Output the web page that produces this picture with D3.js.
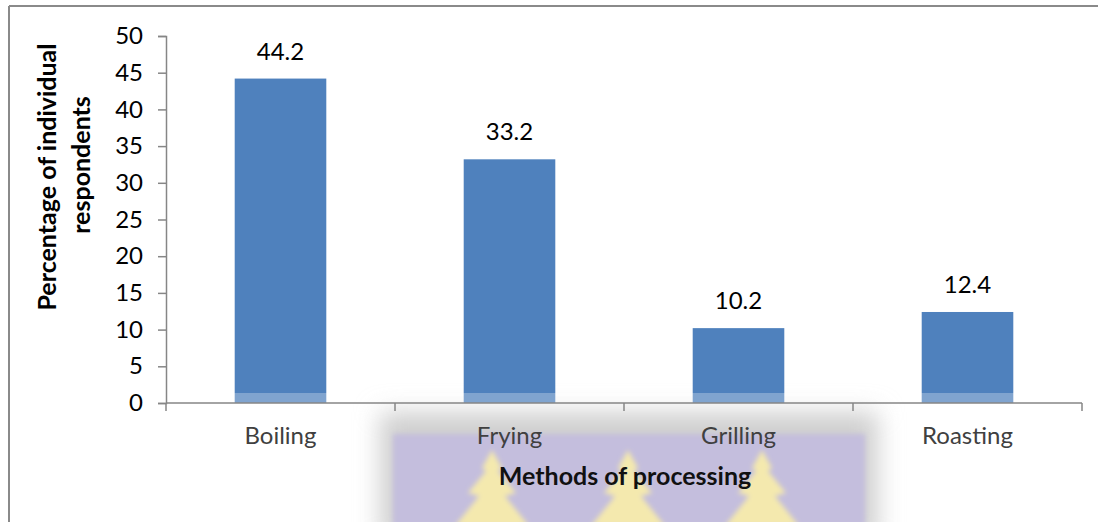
<!DOCTYPE html>
<html>
<head>
<meta charset="utf-8">
<script src="https://cdn.jsdelivr.net/npm/d3@7"></script>
<style>
  body { margin: 0; background: #fff; }
  svg { display: block; font-family: Lato, "Open Sans", sans-serif; }
</style>
</head>
<body>
<script>
var categories = ["Boiling", "Frying", "Grilling", "Roasting"];
var values = [44.2, 33.2, 10.2, 12.4];
var yTicks = [0, 5, 10, 15, 20, 25, 30, 35, 40, 45, 50];

var width = 1098,
    height = 522;

var svg = d3.select("body").append("svg")
    .attr("width", width)
    .attr("height", height);

// outer frame (only top + left show in the picture)
svg.append("line").attr("x1", 9).attr("x2", width).attr("y1", 6).attr("y2", 6)
    .attr("stroke", "#8a8a8a").attr("stroke-width", 2);
svg.append("line").attr("x1", 9).attr("x2", 9).attr("y1", 6).attr("y2", height)
    .attr("stroke", "#8a8a8a").attr("stroke-width", 2);

// watermark behind the lower labels
var defs = svg.append("defs");
defs.append("filter").attr("id", "blur").attr("x", "-20%").attr("y", "-40%")
    .attr("width", "140%").attr("height", "180%")
  .append("feGaussianBlur").attr("stdDeviation", 12);
defs.append("filter").attr("id", "soft")
  .append("feGaussianBlur").attr("stdDeviation", 2.5);

var wm = svg.append("g");
wm.append("rect").attr("x", 380).attr("y", 412).attr("width", 498).attr("height", 130)
    .attr("fill", "#cfcfcf").attr("filter", "url(#blur)");
wm.append("rect").attr("x", 393).attr("y", 434).attr("width", 472).attr("height", 100)
    .attr("fill", "#c4bedd").attr("filter", "url(#soft)");
[492, 628, 762].forEach(function(cx) {
  var p = "M" + cx + ",450 L" + (cx + 10) + ",468 L" + (cx + 6) + ",471 L" + (cx + 24) + ",493 " +
          "L" + (cx + 13) + ",496 L" + (cx + 37) + ",526 L" + (cx - 37) + ",526 L" + (cx - 13) + ",496 " +
          "L" + (cx - 24) + ",493 L" + (cx - 6) + ",471 L" + (cx - 10) + ",468 Z";
  wm.append("path").attr("d", p).attr("fill", "#f4e9ae").attr("filter", "url(#soft)");
});

var x = d3.scaleBand()
    .domain(categories)
    .range([166, 1082]);

var y = d3.scaleLinear()
    .domain([0, 50])
    .range([403, 36]);

var barW = x.bandwidth() * 0.4;

svg.selectAll(".bar")
    .data(values)
  .enter().append("rect")
    .attr("class", "bar")
    .attr("x", function(d, i) { return x(categories[i]) + (x.bandwidth() - barW) / 2; })
    .attr("y", function(d) { return y(d); })
    .attr("width", barW)
    .attr("height", function(d) { return y(0) - y(d); })
    .attr("fill", "#4f81bd");

// pale strip along the bottom of the bars
svg.append("rect").attr("x", 167).attr("y", y(0) - 10).attr("width", 914).attr("height", 10)
    .attr("fill", "#fff").attr("opacity", 0.28);

// value labels
svg.selectAll(".val")
    .data(values)
  .enter().append("text")
    .attr("class", "val")
    .attr("x", function(d, i) { return x(categories[i]) + x.bandwidth() / 2; })
    .attr("y", function(d) { return y(d) - 19; })
    .attr("text-anchor", "middle")
    .attr("font-size", 24)
    .attr("fill", "#000")
    .text(function(d) { return d.toFixed(1); });

// y axis
var yAxis = svg.append("g")
    .attr("transform", "translate(166,0)")
    .call(d3.axisLeft(y).tickValues(yTicks).tickSize(8).tickPadding(15));
yAxis.select(".domain").attr("stroke", "#868686").attr("stroke-width", 1.5);
yAxis.selectAll(".tick line").attr("stroke", "#868686").attr("stroke-width", 1.5);
yAxis.selectAll(".tick text").attr("font-size", 24).attr("fill", "#000")
    .attr("font-family", "Lato, 'Open Sans', sans-serif");

// x axis: boundaries between categories
var bounds = categories.map(function(c) { return x(c); }).concat([x.range()[1]]);
var xAxis = svg.append("g");
xAxis.append("line").attr("x1", 166).attr("x2", 1082).attr("y1", y(0)).attr("y2", y(0))
    .attr("stroke", "#868686").attr("stroke-width", 1.5);
xAxis.selectAll(".xt")
    .data(bounds)
  .enter().append("line")
    .attr("x1", function(d) { return d; }).attr("x2", function(d) { return d; })
    .attr("y1", y(0)).attr("y2", y(0) + 8)
    .attr("stroke", "#868686").attr("stroke-width", 1.5);
xAxis.selectAll(".xl")
    .data(categories)
  .enter().append("text")
    .attr("x", function(d) { return x(d) + x.bandwidth() / 2; })
    .attr("y", 444)
    .attr("text-anchor", "middle")
    .attr("font-size", 24)
    .attr("fill", "#404040")
    .text(function(d) { return d; });

// axis titles
svg.append("text")
    .attr("x", 625).attr("y", 485)
    .attr("text-anchor", "middle")
    .attr("font-size", 25).attr("font-weight", "bold")
    .attr("fill", "#111")
    .text("Methods of processing");

var yt = svg.append("text")
    .attr("transform", "translate(56,177) rotate(-90)")
    .attr("text-anchor", "middle")
    .attr("font-size", 25).attr("font-weight", "bold")
    .attr("fill", "#000");
yt.append("tspan").attr("x", 0).attr("dy", 0).text("Percentage of individual");
yt.append("tspan").attr("x", 12).attr("dy", 34).text("respondents");
</script>
</body>
</html>
